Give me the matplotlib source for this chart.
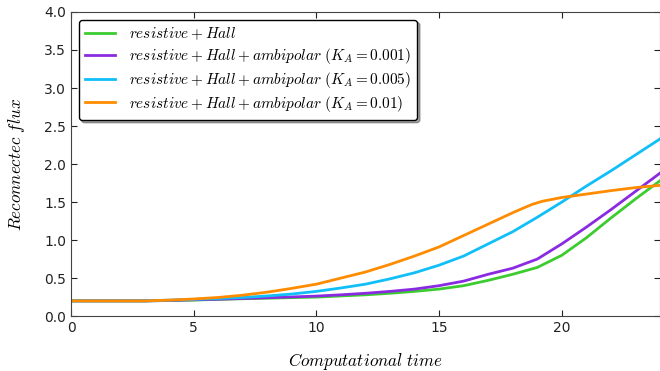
import numpy as np
import matplotlib
matplotlib.use('Agg')
import matplotlib.pyplot as plt

plt.rcParams['mathtext.fontset'] = 'cm'
plt.rcParams['font.size'] = 10

# Reconnected flux vs computational time for each model
t = [0, 1, 2, 3, 4, 5, 6, 7, 8, 9, 10, 11, 12, 13, 14, 15, 16, 17, 18, 19, 20, 21, 22, 23, 24]
flux_hall = [0.2, 0.2, 0.2, 0.2, 0.205, 0.21, 0.22, 0.228, 0.235, 0.243, 0.25, 0.265, 0.28,
             0.3, 0.325, 0.355, 0.4, 0.47, 0.55, 0.64, 0.8, 1.03, 1.29, 1.54, 1.78]
flux_amb_001 = [0.2, 0.2, 0.2, 0.2, 0.205, 0.215, 0.222, 0.232, 0.242, 0.252, 0.263, 0.28, 0.3,
                0.325, 0.355, 0.4, 0.46, 0.55, 0.63, 0.75, 0.95, 1.17, 1.4, 1.64, 1.88]
flux_amb_005 = [0.2, 0.2, 0.2, 0.2, 0.21, 0.22, 0.232, 0.245, 0.265, 0.29, 0.325, 0.37, 0.42,
                0.49, 0.57, 0.67, 0.79, 0.95, 1.11, 1.3, 1.5, 1.71, 1.91, 2.12, 2.33]
t_orange = [0, 1, 2, 3, 4, 5, 6, 7, 8, 9, 10, 11, 12, 13, 14, 15, 16, 17, 18, 18.5, 18.8, 19.2,
            20, 21, 22, 23, 24]
flux_amb_01 = [0.2, 0.2, 0.2, 0.2, 0.21, 0.225, 0.245, 0.275, 0.315, 0.365, 0.42, 0.5, 0.58,
               0.68, 0.79, 0.91, 1.06, 1.21, 1.36, 1.43, 1.47, 1.51, 1.56, 1.605, 1.65, 1.69, 1.72]

labels = [r'$resistive + Hall$',
          r'$resistive + Hall + ambipolar\ (K_A = 0.001)$',
          r'$resistive + Hall + ambipolar\ (K_A = 0.005)$',
          r'$resistive + Hall + ambipolar\ (K_A = 0.01)$']
colors = ['#3ccc30', '#8a2be2', '#10bff8', '#ff8c00']

fig = plt.figure(figsize=(6.6, 3.71), dpi=100)
ax = fig.add_axes([0.1076, 0.148, 0.8924, 0.8197])

ax.plot(t, flux_hall, color=colors[0], lw=2, label=labels[0])
ax.plot(t, flux_amb_001, color=colors[1], lw=2, label=labels[1])
ax.plot(t, flux_amb_005, color=colors[2], lw=2, label=labels[2])
ax.plot(t_orange, flux_amb_01, color=colors[3], lw=2, label=labels[3])

ax.set_xlim(0, 24)
ax.set_ylim(0, 4.0)
ax.set_xticks([0, 5, 10, 15, 20])
ax.set_yticks(np.arange(0, 4.01, 0.5))
ax.tick_params(direction='in', top=True, right=True, length=4, colors='#222222')
for s in ax.spines.values():
    s.set_color('#444444')

ax.set_xlabel(r'$Computational\ time$', fontsize=12.3)
ax.set_ylabel(r'$Reconnectec\ flux$', fontsize=12.3)
ax.xaxis.set_label_coords(0.5, -0.115)
ax.yaxis.set_label_coords(-0.075, 0.5)

leg = ax.legend(loc='upper left', fontsize=11, fancybox=True, shadow=True,
                framealpha=1, edgecolor='black', handlelength=2.0, handletextpad=0.9,
                labelspacing=0.25, borderaxespad=0.5)

fig.savefig('out.png', dpi=100)
